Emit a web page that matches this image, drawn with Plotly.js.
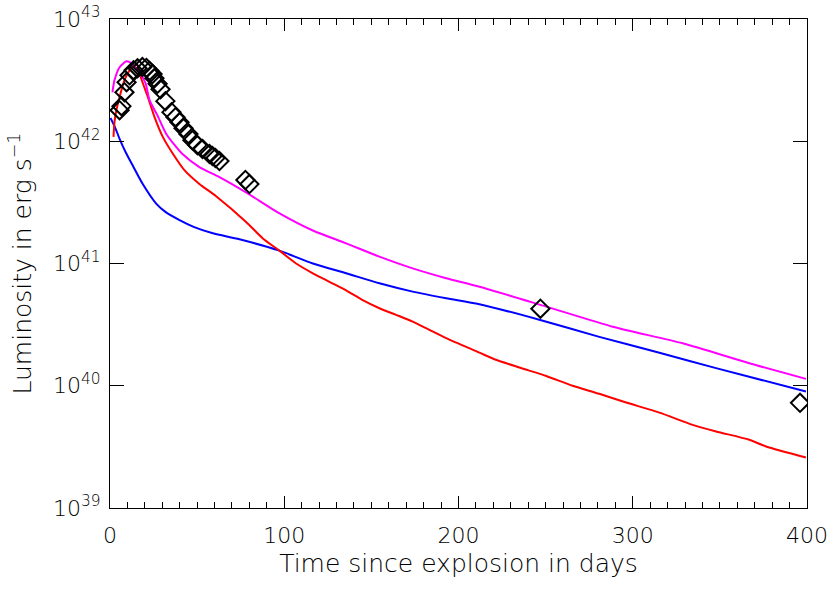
<!DOCTYPE html>
<html>
<head>
<meta charset="utf-8">
<script src="https://cdn.plot.ly/plotly-3.0.1.min.js"></script>
<style>
  html, body { margin: 0; padding: 0; background: #fff; }
  #chart { width: 830px; height: 593px; }
</style>
</head>
<body>
<div id="chart"></div>
<script>
// observed light curve (diamonds)
const obsDays = [5.5, 6.6, 8.3, 9.5, 11.2, 13.5, 15.8, 18.6, 20.9, 22.7, 24.4, 25.5, 27.3, 29.0,
  31.8, 35.3, 37.6, 39.9, 42.2, 45.0, 47.3, 50.2, 53.1, 57.1, 58.8, 60.5, 62.8, 77.7, 80.0, 247, 396];
const obsLogL = [42.254, 42.287, 42.401, 42.483, 42.540, 42.581, 42.597, 42.607, 42.600, 42.575,
  42.550, 42.515, 42.470, 42.425, 42.328, 42.238, 42.197, 42.156, 42.107, 42.059, 42.009, 41.968,
  41.936, 41.895, 41.879, 41.863, 41.838, 41.683, 41.650, 40.63, 39.86];

// model curves
const magDays = [1.4, 2.6, 5.5, 9.5, 12.3, 16.9, 20.4, 22.7, 27.3, 32.4, 41.6, 51.3, 62.8, 78.3,
  97.3, 116.4, 135.5, 154.6, 173.7, 192.9, 212.1, 250.4, 288.5, 328.6, 366.9, 399.4];
const magLogL = [42.40, 42.50, 42.605, 42.654, 42.638, 42.564, 42.475, 42.336, 42.21, 42.058,
  41.895, 41.789, 41.707, 41.58, 41.41, 41.27, 41.165, 41.056, 40.96, 40.88, 40.810, 40.647,
  40.483, 40.347, 40.184, 40.056];

const blueDays = [0.3, 3.0, 5.5, 9.0, 13.1, 18.8, 26.5, 32.0, 39.9, 48.0, 59.0, 74.3, 97.2, 116.4,
  135.5, 154.6, 173.7, 192.9, 212.0, 246.4, 280.8, 315.3, 347.8, 399.4];
const blueLogL = [42.19, 42.11, 42.02, 41.91, 41.80, 41.65, 41.49, 41.42, 41.355, 41.30, 41.247,
  41.198, 41.105, 41.0, 40.92, 40.838, 40.77, 40.716, 40.667, 40.54, 40.40, 40.27, 40.144, 39.953];

const redDays = [2.0, 2.6, 3.6, 8.3, 11.2, 14.1, 15.8, 17.9, 21.7, 25.5, 30.3, 36.0, 42.7, 51.3,
  60.9, 78.1, 87.7, 97.2, 106.8, 116.4, 125.9, 135.5, 145.0, 154.6, 164.2, 173.7, 183.3, 192.9,
  212.0, 220.6, 235.0, 250.3, 265.5, 280.8, 296.2, 315.3, 334.4, 347.8, 366.9, 376.5, 399.4];
const redLogL = [42.036, 42.16, 42.25, 42.50, 42.58, 42.62, 42.62, 42.513, 42.363, 42.20, 42.036,
  41.90, 41.764, 41.651, 41.55, 41.34, 41.205, 41.105, 41.0, 40.92, 40.85, 40.78, 40.70, 40.634,
  40.58, 40.525, 40.457, 40.39, 40.271, 40.217, 40.149, 40.08, 40.0, 39.934, 39.863, 39.78, 39.68,
  39.626, 39.558, 39.503, 39.413];

const yTickVals = [1e39, 1e40, 1e41, 1e42, 1e43];
const yTickText = ['10<sup>39</sup>', '10<sup>40</sup>', '10<sup>41</sup>', '10<sup>42</sup>', '10<sup>43</sup>'];

const pow = arr => arr.map(v => Math.pow(10, v));

function curve(x, y, color) {
  return {
    x, y: pow(y), mode: 'lines',
    line: { color, width: 2, shape: 'spline', smoothing: 0.7 },
    hoverinfo: 'skip'
  };
}

const traces = [
  curve(blueDays, blueLogL, '#0000ff'),
  curve(redDays, redLogL, '#ff0000'),
  curve(magDays, magLogL, '#ff00ff'),
  {
    x: obsDays, y: pow(obsLogL),
    mode: 'markers',
    marker: { symbol: 'diamond-open', size: 14, color: '#000', line: { width: 2, color: '#000' } }
  }
];

const tickFont = { family: 'DejaVu Sans, sans-serif', size: 22, color: '#000', weight: 200 };
const titleFont = { family: 'DejaVu Sans, sans-serif', size: 25, color: '#000', weight: 200 };

const layout = {
  width: 830, height: 593,
  margin: { l: 110, r: 23, t: 19, b: 85 },
  showlegend: false,
  paper_bgcolor: '#fff',
  plot_bgcolor: '#fff',
  font: tickFont,
  xaxis: {
    range: [0, 400],
    tickvals: [0, 100, 200, 300, 400],
    ticks: 'inside', ticklen: 12, tickwidth: 1, tickcolor: '#000',
    ticklabelstandoff: 8,
    ticklabeloverflow: 'allow',
    minor: { dtick: 10, ticks: 'inside', ticklen: 6, tickcolor: '#000', showgrid: false },
    showgrid: false, zeroline: false,
    showline: true, linecolor: '#000', linewidth: 1, mirror: 'ticks',
    tickfont: tickFont,
    title: { text: 'Time since explosion in days', font: titleFont, standoff: 7 }
  },
  yaxis: {
    type: 'log',
    range: [39, 43],
    tickvals: yTickVals,
    ticktext: yTickText,
    ticks: 'inside', ticklen: 14, tickwidth: 1, tickcolor: '#000',
    ticklabelstandoff: 4,
    ticklabeloverflow: 'allow',
    showgrid: false, zeroline: false,
    showline: true, linecolor: '#000', linewidth: 1, mirror: 'ticks',
    tickfont: tickFont,
    title: { text: 'Luminosity in erg s<sup>\u22121</sup>', font: titleFont, standoff: 14 }
  }
};

Plotly.newPlot('chart', traces, layout, { displayModeBar: false, staticPlot: true });
</script>
</body>
</html>
